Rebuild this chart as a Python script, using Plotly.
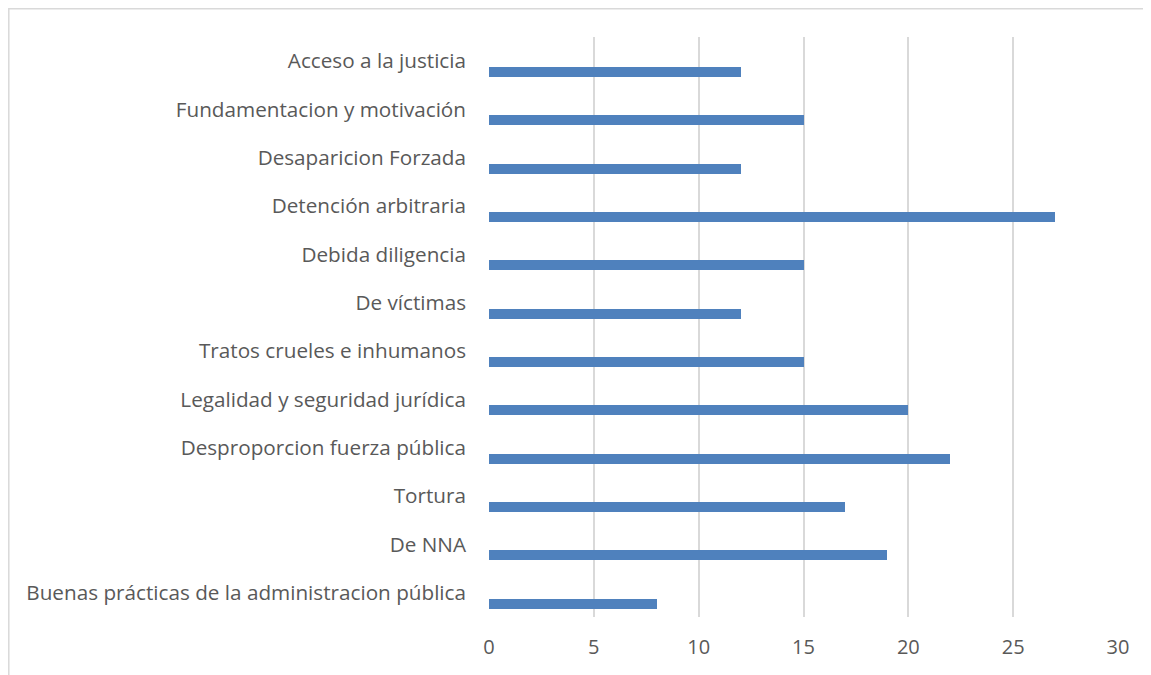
import plotly.graph_objects as go

# categories listed bottom -> top (as in the original Excel chart)
categorias = [
    "Buenas prácticas de la administracion pública",
    "De NNA",
    "Tortura",
    "Desproporcion fuerza pública",
    "Legalidad y seguridad jurídica",
    "Tratos crueles e inhumanos",
    "De víctimas",
    "Debida diligencia",
    "Detención arbitraria",
    "Desaparicion Forzada",
    "Fundamentacion y motivación",
    "Acceso a la justicia",
]
valores = [8, 19, 17, 22, 20, 15, 12, 15, 27, 12, 15, 12]
ticks_x = [0, 5, 10, 15, 20, 25, 30]

# the page body has an 8px margin, so everything is shifted up/left by 8px
W, H = 1151, 675
L, R, T, B = 481, 41, 29, 66
pw, ph = W - L - R, H - T - B
FONT = dict(size=20.7, color="#595959", family="Open Sans, sans-serif")

fig = go.Figure()
fig.add_trace(go.Bar(
    x=valores, y=categorias,
    orientation="h",
    marker=dict(color="#4F81BD", line=dict(width=0)),
    width=0.21,
    offset=-0.33,
    hoverinfo="x+y",
    showlegend=False,
))

fig.update_xaxes(
    range=[0, 30],
    tickvals=ticks_x,
    showgrid=True, gridcolor="#D9D9D9", gridwidth=1.5,
    zeroline=False, showline=False,
    ticklabelstandoff=16,
    tickfont=dict(FONT, size=20),
    fixedrange=True,
)
fig.update_yaxes(
    type="category",
    categoryorder="array", categoryarray=categorias,
    range=[-0.5, len(categorias) - 0.5],
    showgrid=False, zeroline=False, showline=False,
    ticklabelstandoff=22,
    tickfont=FONT,
    fixedrange=True,
)

# outer chart border (extends past right/bottom edges as in the picture)
fig.add_shape(
    type="rect", xref="paper", yref="paper",
    x0=(0.8 - L) / pw, x1=(W + 20 - L) / pw,
    y0=-(B + 20) / ph, y1=(H - B - 0.8) / ph,
    line=dict(color="#D9D9D9", width=1.5),
    fillcolor="rgba(0,0,0,0)", layer="below",
)

fig.update_layout(
    width=W, height=H,
    margin=dict(l=L, r=R, t=T, b=B, autoexpand=False),
    plot_bgcolor="white", paper_bgcolor="white",
    bargap=0,
)

fig.write_html("out.html")
